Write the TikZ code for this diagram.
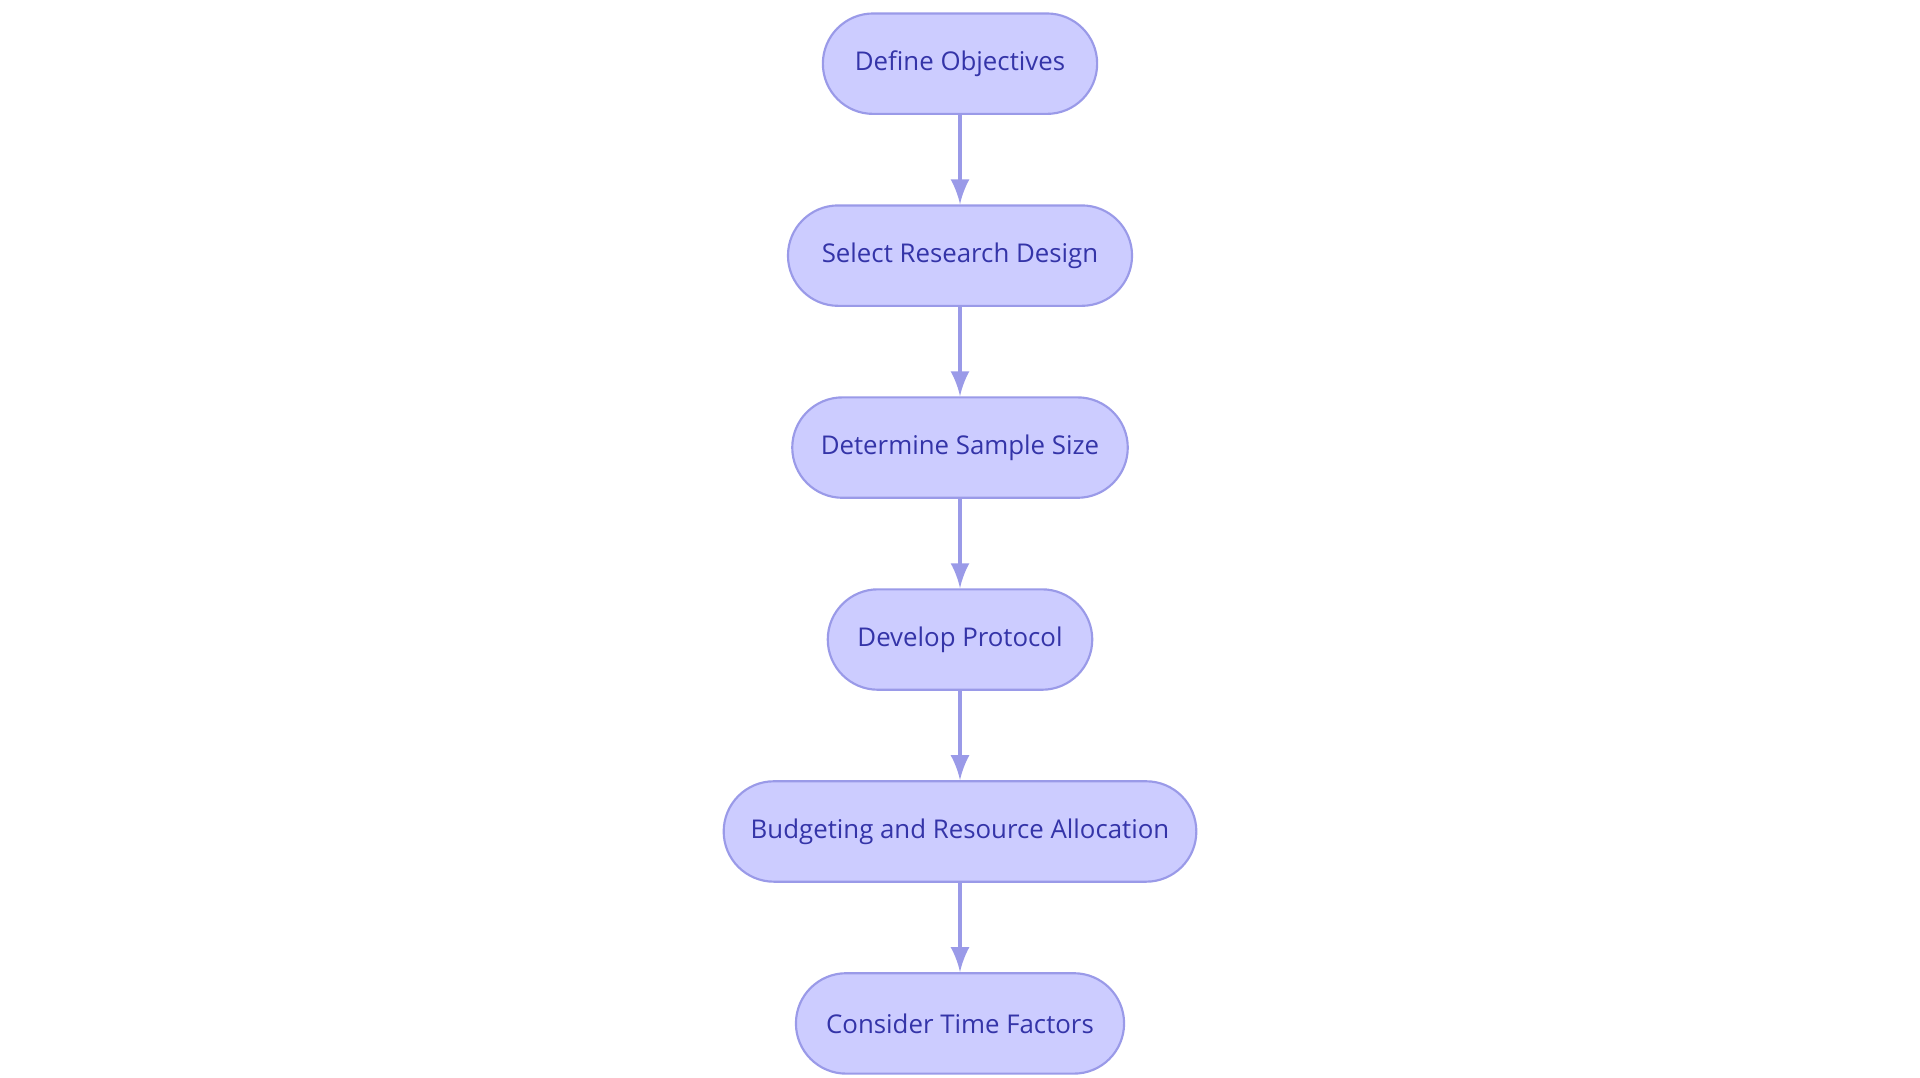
\documentclass[tikz,border=0pt]{standalone}
\usepackage{fontspec}
\setmainfont{Open Sans}
\usetikzlibrary{positioning}
\definecolor{stepfill}{HTML}{CCCCFF}
\definecolor{stepdraw}{HTML}{9A9AE8}
\definecolor{steptext}{HTML}{3434A8}
\begin{document}
\begin{tikzpicture}
[thick,%
  stage/.style={rectangle,rounded corners=0.41cm,minimum height=0.82cm,draw=stepdraw,fill=stepfill,text=steptext,font=\fontsize{6}{7}\selectfont,inner sep=0pt,line width=0.5pt},%
  flow/.style={->,>=latex,draw=stepdraw,line width=1pt},%
  node distance=0.73cm]
\useasboundingbox (0,0) rectangle (15.68,-8.8);
\node[stage,minimum width=2.24cm] (obj) at (7.84,-0.52) {Define Objectives};
\node[stage,minimum width=2.81cm,below=of obj] (design) {Select Research Design};
\node[stage,minimum width=2.74cm,below=of design] (sample) {Determine Sample Size};
\node[stage,minimum width=2.16cm,below=of sample] (protocol) {Develop Protocol};
\node[stage,minimum width=3.86cm,below=of protocol] (budget) {Budgeting and Resource Allocation};
\node[stage,minimum width=2.68cm,below=of budget] (time) {Consider Time Factors};
\foreach \a/\b in {obj/design,design/sample,sample/protocol,protocol/budget,budget/time}
  \draw[flow] (\a) -- (\b);
\end{tikzpicture}
\end{document}
